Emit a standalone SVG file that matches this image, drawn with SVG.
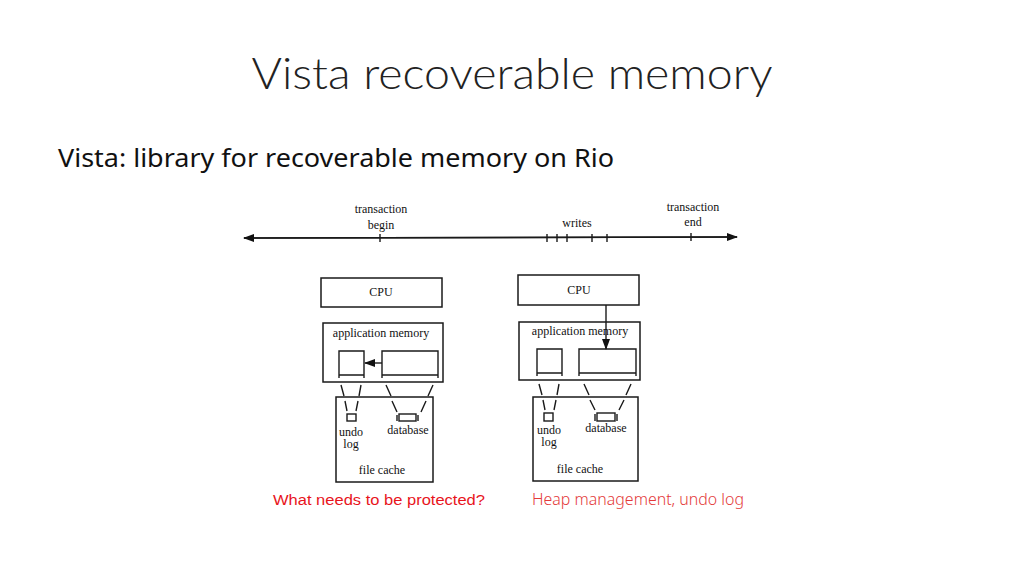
<svg xmlns="http://www.w3.org/2000/svg" width="1024" height="576" viewBox="0 0 1024 576">
<defs>
<marker id="ah" markerWidth="11" markerHeight="8" refX="10" refY="4" orient="auto" markerUnits="userSpaceOnUse"><path d="M0,0 L11,4 L0,8 Z" fill="#111"/></marker>
<style>
.bx{fill:none;stroke:#1a1a1a;stroke-width:1.5}
.ln{fill:none;stroke:#1a1a1a;stroke-width:1.4}
.t{font-family:"Liberation Serif",serif;font-size:12px;fill:#111;text-anchor:middle}
</style>
</defs>
<rect width="1024" height="576" fill="#fff"/>
<text x="512" y="89" font-family="Lato, 'Noto Sans', sans-serif" font-weight="300" font-size="44" fill="#222" text-anchor="middle" textLength="521" lengthAdjust="spacingAndGlyphs">Vista recoverable memory</text>
<text x="58" y="167" font-family="'Noto Sans', 'Liberation Sans', sans-serif" font-size="25" fill="#111" textLength="556" lengthAdjust="spacingAndGlyphs">Vista: library for recoverable memory on Rio</text>

<g id="connectors">
<line class="ln" x1="244" y1="238" x2="737" y2="237" marker-end="url(#ah)"/>
<line class="ln" x1="737" y1="237" x2="244" y2="238" marker-end="url(#ah)"/>
<path class="ln" d="M380,234v8 M547,234v8 M557,234v8 M567,234v8 M592,234v8 M607,234v8 M691,233v8"/>
<line class="ln" x1="382" y1="363" x2="365" y2="363" marker-end="url(#ah)"/>
<line class="ln" x1="606" y1="305" x2="606" y2="349" marker-end="url(#ah)"/>
<path class="ln" d="M341,385 L344,396 M345,401 L347,411 M361,385 L359,396 M358,401 L356,411 M386,385 L391,396 M392,401 L397,412 M433,385 L428,396 M426,401 L421,412"/>
<path class="ln" d="M539,384 L542,395 M543,400 L545,410 M559,384 L557,395 M556,400 L554,410 M584,384 L589,395 M590,400 L595,410 M631,384 L626,395 M624,400 L619,410"/>
</g>

<g id="timeline-labels">
<text class="t" x="381" y="213">transaction</text>
<text class="t" x="381" y="229">begin</text>
<text class="t" x="577" y="227">writes</text>
<text class="t" x="693" y="211">transaction</text>
<text class="t" x="693" y="226">end</text>
</g>

<g id="left-cpu"><rect class="bx" x="321" y="278" width="121" height="29"/><text class="t" x="381" y="296">CPU</text></g>
<g id="left-appmem">
<rect class="bx" x="323" y="323" width="120" height="59"/>
<text class="t" x="381" y="337">application memory</text>
<path class="ln" d="M339,378V351H364V378 M339,375H364"/>
<path class="ln" d="M382,378V351H438V378 M382,375H438"/>
</g>
<g id="left-filecache">
<rect class="bx" x="336" y="397" width="97" height="85"/>
<rect class="ln" x="347" y="414" width="9" height="7"/>
<path class="ln" d="M397,415V421 M418,415V421"/><rect class="ln" x="399" y="414" width="17" height="7"/>
<text class="t" x="351" y="436">undo</text>
<text class="t" x="351" y="448">log</text>
<text class="t" x="408" y="434">database</text>
<text class="t" x="382" y="474">file cache</text>
</g>

<g id="right-cpu"><rect class="bx" x="518" y="275" width="121" height="30"/><text class="t" x="579" y="294">CPU</text></g>
<g id="right-appmem">
<rect class="bx" x="519" y="322" width="121" height="58"/>
<text class="t" x="580" y="335">application memory</text>
<path class="ln" d="M537,376V349H562V376 M537,373H562"/>
<path class="ln" d="M579,376V349H636V376 M579,373H636"/>
</g>
<g id="right-filecache">
<rect class="bx" x="533" y="397" width="105" height="84"/>
<rect class="ln" x="544" y="413" width="9" height="8"/>
<path class="ln" d="M595,414V421 M617,414V421"/><rect class="ln" x="597" y="413" width="18" height="8"/>
<text class="t" x="549" y="434">undo</text>
<text class="t" x="549" y="446">log</text>
<text class="t" x="606" y="432">database</text>
<text class="t" x="580" y="473">file cache</text>
</g>

<text x="273" y="505" font-family="'Liberation Sans', sans-serif" font-size="15.5" fill="#e8141c" textLength="212" lengthAdjust="spacingAndGlyphs">What needs to be protected?</text>
<text x="532" y="505" font-family="'Noto Sans', 'Liberation Sans', sans-serif" font-weight="300" font-size="15.5" fill="#e43a3a" textLength="212" lengthAdjust="spacingAndGlyphs">Heap management, undo log</text>
</svg>
